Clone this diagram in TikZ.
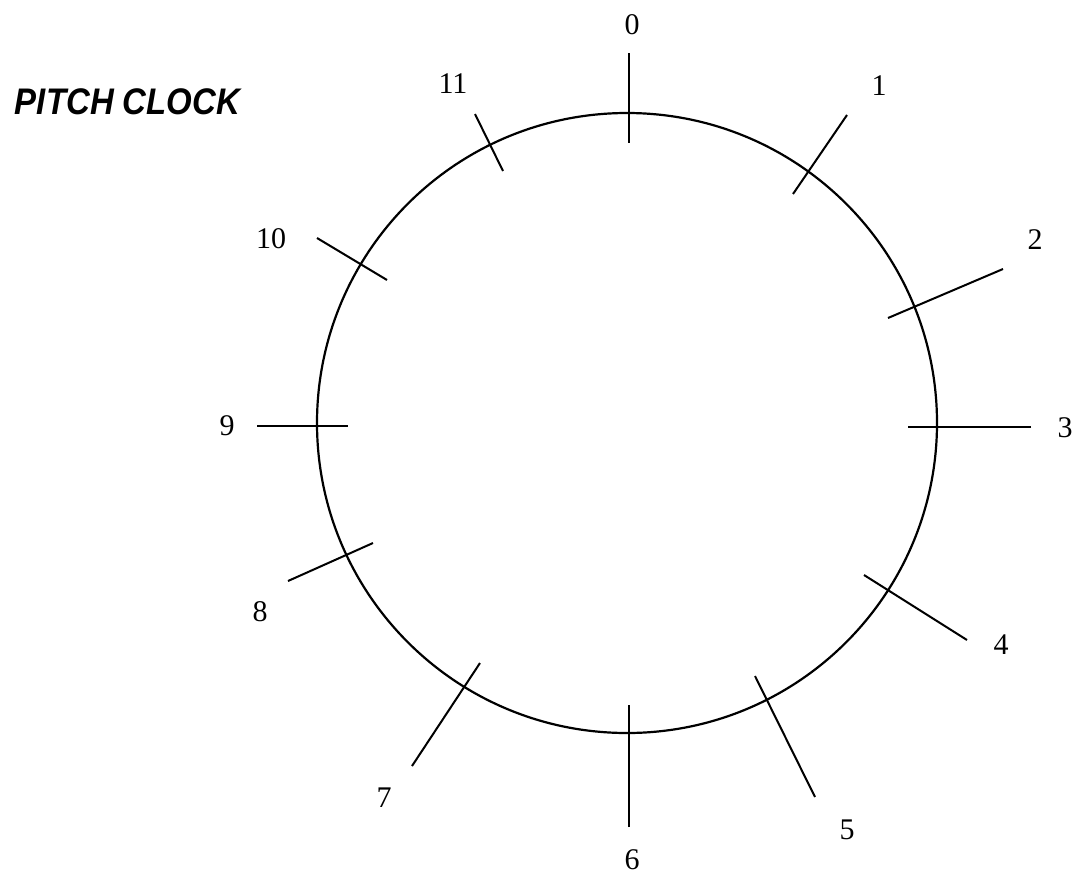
\documentclass[tikz,border=0pt]{standalone}
\usepackage{fontspec}
\setmainfont{Liberation Serif}
\newfontfamily\titlefont{Liberation Sans}
\begin{document}
\begin{tikzpicture}[x=1pt,y=-1pt,
  tick/.style={line width=2pt, black},
  num/.style={font=\fontsize{30}{30}\selectfont, inner sep=0pt, anchor=center},
  dial/.style={circle, draw, line width=2.2pt, inner sep=0pt, minimum size=620pt}]
\useasboundingbox (0,0) rectangle (1076,876);
\node[dial] (c) at (627,423) {};
% tick end points
\coordinate (a0) at (629,53);  \coordinate (b0) at (629,143);
\coordinate (a1) at (847,115); \coordinate (b1) at (793,194);
\coordinate (a2) at (1003,269); \coordinate (b2) at (888,318);
\coordinate (a3) at (1031,427); \coordinate (b3) at (908,427);
\coordinate (a4) at (967,640); \coordinate (b4) at (864,575);
\coordinate (a5) at (815,797); \coordinate (b5) at (755,676);
\coordinate (a6) at (629,827); \coordinate (b6) at (629,705);
\coordinate (a7) at (412,766); \coordinate (b7) at (480,663);
\coordinate (a8) at (288,581); \coordinate (b8) at (373,543);
\coordinate (a9) at (257,426); \coordinate (b9) at (348,426);
\coordinate (a10) at (317,238); \coordinate (b10) at (387,280);
\coordinate (a11) at (475,114); \coordinate (b11) at (503,171);
\foreach \i in {0,...,11} {\draw[tick] (a\i) -- (b\i);}
% labels
\node[num] (l0) at (632,25) {0};
\node[num] (l1) at (879,86) {1};
\node[num] (l2) at (1035,240) {2};
\node[num] (l3) at (1065,428) {3};
\node[num] (l4) at (1001,645) {4};
\node[num] (l5) at (847,830) {5};
\node[num] (l6) at (632,860) {6};
\node[num] (l7) at (384,798) {7};
\node[num] (l8) at (260,612) {8};
\node[num] (l9) at (227,426) {9};
\node[num] (l10) at (271,239) {10};
\node[num] (l11) at (453,84) {11};
\node[inner sep=0pt, anchor=center] (title) at (127.5,101.5)
  {\scalebox{0.89}[1]{\titlefont\bfseries\itshape\fontsize{37}{37}\selectfont PITCH CLOCK}};
\end{tikzpicture}
\end{document}
